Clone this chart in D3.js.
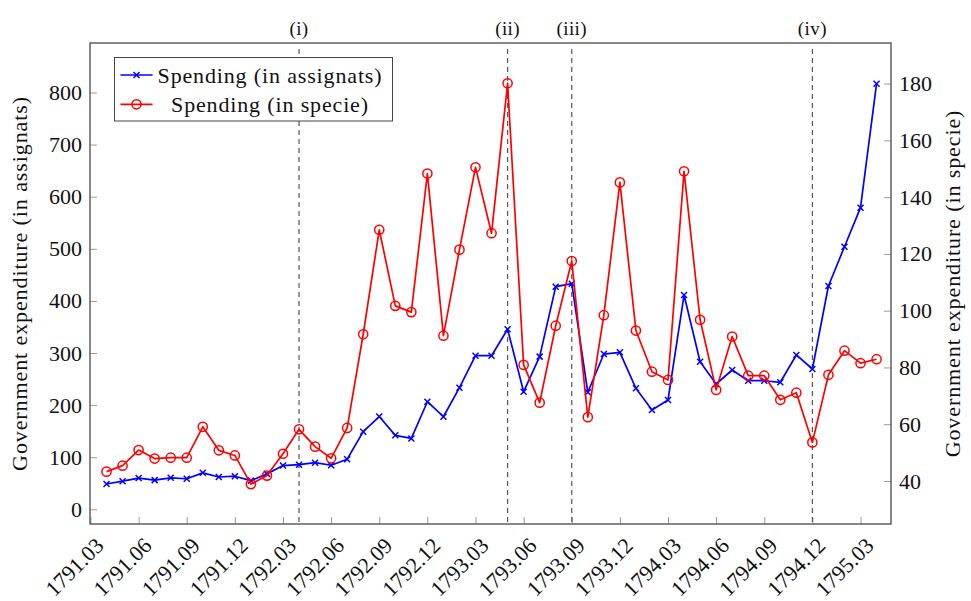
<!DOCTYPE html>
<html>
<head>
<meta charset="utf-8">
<script src="https://cdn.jsdelivr.net/npm/d3@7/dist/d3.min.js"></script>
<style>
  html, body { margin: 0; padding: 0; background: #fff; }
  svg { display: block; font-family: "Liberation Serif", "Times New Roman", serif; }
  .tick line { stroke: #9a9a9a; stroke-width: 1; }
  .tick text { fill: #111; font-size: 22px; font-family: "Liberation Serif", "Times New Roman", serif; }
</style>
</head>
<body>
<svg id="chart" width="971" height="601"></svg>
<script>
// Monthly government expenditure, April 1791 – April 1795
const months = [
  "1791.04","1791.05","1791.06","1791.07","1791.08","1791.09","1791.10","1791.11","1791.12",
  "1792.01","1792.02","1792.03","1792.04","1792.05","1792.06","1792.07","1792.08","1792.09",
  "1792.10","1792.11","1792.12","1793.01","1793.02","1793.03","1793.04","1793.05","1793.06",
  "1793.07","1793.08","1793.09","1793.10","1793.11","1793.12","1794.01","1794.02","1794.03",
  "1794.04","1794.05","1794.06","1794.07","1794.08","1794.09","1794.10","1794.11","1794.12",
  "1795.01","1795.02","1795.03","1795.04"
];

// Spending in assignats (left axis)
const assignats = [
  48.6, 54, 60, 56, 60.5, 58.7, 70, 62, 63.5, 55,
  68, 84, 85.6, 89.5, 84.5, 96, 149, 178, 142, 136,
  206.5, 177.7, 233.4, 294.8, 294.8, 345.5, 225.7, 293, 427.3, 433,
  224.6, 298, 301.3, 232.2, 190.6, 209.8, 411.3, 283.3, 240.5, 267.4,
  246.8, 246.8, 243.8, 296.2, 269.3, 428.6, 504, 578.9, 816.9
];

// Spending in specie (right axis)
const specie = [
  43.3, 45.4, 50.9, 47.9, 48.2, 48.2, 59.1, 50.8, 49.0, 38.9,
  41.9, 49.6, 58.2, 52.1, 48.0, 58.7, 91.7, 128.5, 101.7, 99.5,
  148.3, 91.2, 121.5, 150.5, 127.3, 180.1, 80.9, 67.6, 94.7, 117.5,
  62.5, 98.4, 145.2, 93.0, 78.5, 75.6, 149.1, 96.8, 72.1, 90.9,
  77.1, 77.1, 68.6, 71.1, 53.6, 77.4, 85.9, 81.5, 82.9
];

// Quarterly tick labels along the time axis
const xTickLabels = [
  "1791.03","1791.06","1791.09","1791.12","1792.03","1792.06","1792.09","1792.12",
  "1793.03","1793.06","1793.09","1793.12","1794.03","1794.06","1794.09","1794.12","1795.03"
];
const leftTicks = [0, 100, 200, 300, 400, 500, 600, 700, 800];
const rightTicks = [40, 60, 80, 100, 120, 140, 160, 180];

// Marked events (month label and tag)
const eventMonths = ["1792.04", "1793.05", "1793.09", "1794.12"];
const eventTags = ["(i)", "(ii)", "(iii)", "(iv)"];

const seriesNames = ["Spending (in assignats)", "Spending (in specie)"];
const yLeftTitle = "Government expenditure (in assignats)";
const yRightTitle = "Government expenditure (in specie)";

// ---- layout ----
const frame = { left: 90, right: 891, top: 43, bottom: 524 };
const svg = d3.select("#chart");

// month index: 0 = 1791.03
const monthIndex = m => {
  const [y, mo] = m.split(".").map(Number);
  return (y - 1791) * 12 + (mo - 3);
};

const x = d3.scaleLinear().domain([-0.03, 49.9]).range([frame.left, frame.right]);
const yL = d3.scaleLinear().domain([-28.2, 895]).range([frame.bottom, frame.top]);
const yR = d3.scaleLinear().domain([24.85, 194.3]).range([frame.bottom, frame.top]);

// ---- axes ----
const gxAxis = svg.append("g")
  .attr("transform", `translate(0,${frame.bottom})`)
  .call(d3.axisBottom(x)
    .tickValues(xTickLabels.map(monthIndex))
    .tickSize(-7)
    .tickFormat((d, i) => xTickLabels[i]));
gxAxis.select(".domain").remove();
gxAxis.selectAll(".tick text")
  .attr("x", 0).attr("y", 0).attr("dy", null)
  .attr("text-anchor", "end")
  .attr("transform", "translate(14,23) rotate(-45)");

const gyL = svg.append("g")
  .attr("transform", `translate(${frame.left},0)`)
  .call(d3.axisLeft(yL).tickValues(leftTicks).tickSize(-7).tickPadding(8));
gyL.select(".domain").remove();

const gyR = svg.append("g")
  .attr("transform", `translate(${frame.right},0)`)
  .call(d3.axisRight(yR).tickValues(rightTicks).tickSize(-7).tickPadding(8));
gyR.select(".domain").remove();

// axes inherit the serif face from the svg
[gxAxis, gyL, gyR].forEach(g => g.attr("font-family", null).attr("font-size", null));

// axis titles
svg.append("text")
  .attr("transform", `translate(27,${(frame.top + frame.bottom) / 2}) rotate(-90)`)
  .attr("text-anchor", "middle")
  .attr("font-size", 22).attr("letter-spacing", 0.9).attr("fill", "#111")
  .text(yLeftTitle);
svg.append("text")
  .attr("transform", `translate(960,${(frame.top + frame.bottom) / 2}) rotate(-90)`)
  .attr("text-anchor", "middle")
  .attr("font-size", 22).attr("letter-spacing", 0.9).attr("fill", "#111")
  .text(yRightTitle);

// ---- event markers ----
const ev = svg.append("g");
eventMonths.forEach((m, i) => {
  const ex = x(monthIndex(m));
  ev.append("line")
    .attr("x1", ex).attr("x2", ex)
    .attr("y1", frame.top + 2).attr("y2", frame.bottom)
    .attr("stroke", "#555").attr("stroke-width", 1.2)
    .attr("stroke-dasharray", "5,4").attr("stroke-dashoffset", -4);
  ev.append("text")
    .attr("x", ex).attr("y", 35)
    .attr("text-anchor", "middle")
    .attr("font-size", 19).attr("letter-spacing", 0.4).attr("fill", "#111")
    .text(eventTags[i]);
});

// ---- series ----
const blue = "#0000ff", red = "#ff0000";
const idx = months.map(monthIndex);

const lineL = d3.line().x((d, i) => x(idx[i])).y(d => yL(d));
const lineR = d3.line().x((d, i) => x(idx[i])).y(d => yR(d));

function xMark(g, cx, cy, s, color) {
  g.append("path")
    .attr("d", `M${cx - s},${cy - s}L${cx + s},${cy + s}M${cx - s},${cy + s}L${cx + s},${cy - s}`)
    .attr("stroke", color).attr("stroke-width", 1.5).attr("fill", "none");
}

const gBlue = svg.append("g");
gBlue.append("path").datum(assignats)
  .attr("d", lineL).attr("fill", "none")
  .attr("stroke", blue).attr("stroke-width", 1.7).attr("stroke-linejoin", "round");
assignats.forEach((v, i) => xMark(gBlue, x(idx[i]), yL(v), 3, blue));

const gRed = svg.append("g");
gRed.append("path").datum(specie)
  .attr("d", lineR).attr("fill", "none")
  .attr("stroke", red).attr("stroke-width", 1.7).attr("stroke-linejoin", "round");
gRed.selectAll("circle").data(specie).join("circle")
  .attr("cx", (d, i) => x(idx[i])).attr("cy", d => yR(d))
  .attr("r", 4.6).attr("fill", "none")
  .attr("stroke", red).attr("stroke-width", 1.5);

// ---- frame ----
svg.append("rect")
  .attr("x", frame.left).attr("y", frame.top)
  .attr("width", frame.right - frame.left).attr("height", frame.bottom - frame.top)
  .attr("fill", "none").attr("stroke", "#555").attr("stroke-width", 1.4);

// ---- legend ----
const lg = svg.append("g");
lg.append("rect")
  .attr("x", 114.5).attr("y", 57.5).attr("width", 278).attr("height", 63.5)
  .attr("fill", "#fff").attr("stroke", "#444").attr("stroke-width", 1);
const rows = [
  { name: seriesNames[0], color: blue, y: 75, mark: "x" },
  { name: seriesNames[1], color: red, y: 104.3, mark: "o" }
];
rows.forEach(r => {
  lg.append("line")
    .attr("x1", 120.5).attr("x2", 152.5).attr("y1", r.y).attr("y2", r.y)
    .attr("stroke", r.color).attr("stroke-width", 1.7);
  if (r.mark === "x") xMark(lg, 136.5, r.y, 3, r.color);
  else lg.append("circle").attr("cx", 136.5).attr("cy", r.y).attr("r", 4.6)
    .attr("fill", "none").attr("stroke", r.color).attr("stroke-width", 1.5);
  lg.append("text")
    .attr("x", 270).attr("y", r.y + 7.8)
    .attr("text-anchor", "middle")
    .attr("font-size", 22).attr("letter-spacing", 0.85).attr("fill", "#111")
    .text(r.name);
});
</script>
</body>
</html>
